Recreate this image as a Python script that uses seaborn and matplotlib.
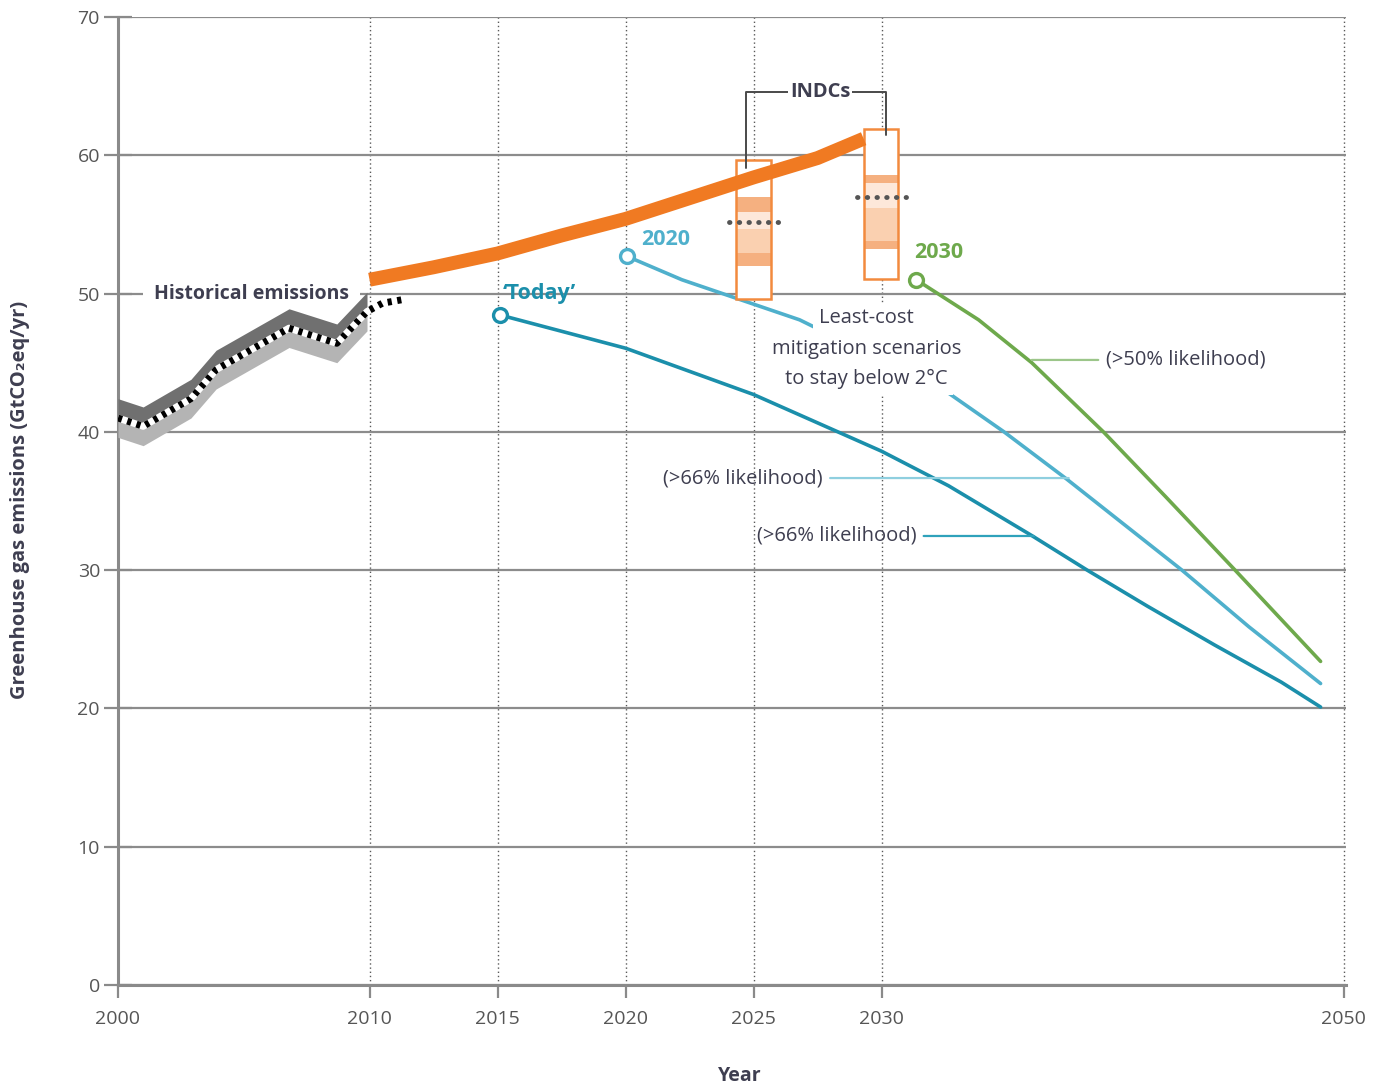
import numpy as np
import pandas as pd
import matplotlib.pyplot as plt
import seaborn as sns

# --- datos ---
# emisiones históricas (línea central de la banda)
hist_years = [2000, 2001, 2002.9, 2003.9, 2006.8, 2008.7, 2009.9, 2010.5, 2011.4]
hist_vals = [41.0, 40.4, 42.4, 44.5, 47.5, 46.4, 48.7, 49.3, 49.6]
hist_band_n = 7  # las bandas grises terminan en 2010

# trayectoria INDC (línea naranja)
indc_years = [2010, 2012.5, 2015, 2017.5, 2020, 2022.5, 2025, 2027.5, 2029.3]
indc_vals = [51.0, 51.9, 52.9, 54.2, 55.4, 56.9, 58.4, 59.8, 61.2]

# cajas INDC 2025 / 2030
box_years = [2025, 2030]
box_low = [49.6, 51.05]
box_high = [59.65, 61.9]
outer_low = [52.0, 53.2]
inner_low = [52.9, 53.8]
core_low = [54.7, 56.2]
core_high = [55.9, 58.0]
outer_high = [57.0, 58.6]
box_median = [55.2, 57.0]

# escenarios de menor coste
today_years = [2015.1, 2020, 2025, 2030, 2032.9, 2036.5, 2038.9, 2041.5, 2044.4, 2047.3, 2049]
today_vals = [48.45, 46.05, 42.7, 38.6, 36.1, 32.5, 30.0, 27.4, 24.6, 21.9, 20.1]

s2020_years = [2020.05, 2022.2, 2026.8, 2032.9, 2035.3, 2038.0, 2043.0, 2045.9, 2049]
s2020_vals = [52.7, 51.0, 48.1, 42.8, 40.0, 36.6, 30.0, 25.9, 21.8]

s2030_years = [2031.5, 2034.2, 2036.5, 2039.6, 2042.3, 2045.3, 2049]
s2030_vals = [51.0, 48.1, 45.0, 40.0, 35.3, 30.0, 23.4]

x_ticks = [2000, 2010, 2015, 2020, 2025, 2030, 2050]
y_ticks = [0, 10, 20, 30, 40, 50, 60, 70]

# colores
TEAL_DARK = '#1b8fab'
TEAL_LIGHT = '#4fb0cc'
GREEN = '#6ea94c'
ORANGE = '#f07a22'
TXT = '#3e3e50'

sns.set_theme(style="white")
plt.rcParams['font.family'] = ['Open Sans', 'DejaVu Sans']

fig = plt.figure(figsize=(13.73, 10.86), dpi=100)
ax = fig.add_axes([118 / 1373, 1 - 985 / 1086, 1228 / 1373, 968 / 1086])

# eje x no lineal (2000-2010 y 2030-2050 algo comprimidos)
yr_anchor = [2000, 2010, 2030, 2050, 2060]
px_anchor = [0, 252, 765, 1228, 1459.5]
ax.set_xscale('function', functions=(lambda x: np.interp(x, yr_anchor, px_anchor),
                                     lambda p: np.interp(p, px_anchor, yr_anchor)))
ax.set_xlim(2000, 2050.1)
ax.set_ylim(0, 70)

# rejilla
ax.set_axisbelow(True)
ax.yaxis.grid(True, color='#8c8c8c', lw=1.6)
ax.xaxis.grid(True, color='#5a5a5a', lw=1.0, ls=(0, (1, 2)))
for s in ['top', 'right']:
    ax.spines[s].set_visible(False)
for s in ['left', 'bottom']:
    ax.spines[s].set_color('#8a8a8a')
    ax.spines[s].set_linewidth(2.2)

# emisiones históricas
hx = hist_years[:hist_band_n]
hc = np.array(hist_vals[:hist_band_n])
ax.fill_between(hx, hc, hc + 1.4, color='#707070', lw=0, zorder=3)
ax.fill_between(hx, hc - 1.4, hc, color='#b4b4b4', lw=0, zorder=3)
ax.plot(hist_years, hist_vals, color='white', lw=5, zorder=3.2, solid_capstyle='butt')
ax.plot(hist_years, hist_vals, color='black', lw=5, ls=(0, (0.6, 0.8)), zorder=3.3)

# escenarios
sns.lineplot(x=today_years, y=today_vals, ax=ax, color=TEAL_DARK, lw=2.6, zorder=3)
sns.lineplot(x=s2020_years, y=s2020_vals, ax=ax, color=TEAL_LIGHT, lw=2.6, zorder=3)
sns.lineplot(x=s2030_years, y=s2030_vals, ax=ax, color=GREEN, lw=2.6, zorder=3)
for xs, ys, c in [(today_years, today_vals, TEAL_DARK), (s2020_years, s2020_vals, TEAL_LIGHT),
                  (s2030_years, s2030_vals, GREEN)]:
    ax.plot(xs[0], ys[0], 'o', ms=10, mfc='white', mec=c, mew=2.4, zorder=6)

# cajas INDC
bw = 1.4
low, high = np.array(box_low), np.array(box_high)
ax.bar(box_years, high - low, bottom=low, width=bw, color='white', lw=0, zorder=4)
ax.bar(box_years, np.array(outer_high) - np.array(outer_low), bottom=outer_low, width=bw,
       color='#f5b080', lw=0, zorder=4.1)
ax.bar(box_years, np.array(core_low) - np.array(inner_low), bottom=inner_low, width=bw,
       color='#fad0b0', lw=0, zorder=4.2)
ax.bar(box_years, np.array(core_high) - np.array(core_low), bottom=core_low, width=bw,
       color='#fde8da', lw=0, zorder=4.2)
ax.bar(box_years, high - low, bottom=low, width=bw, fill=False, edgecolor='#f28a3e', lw=1.8, zorder=4.5)

# línea INDC
sns.lineplot(x=indc_years, y=indc_vals, ax=ax, color=ORANGE, lw=10, zorder=5)
ax.lines[-1].set_solid_capstyle('butt')

# medianas punteadas
for yr, m in zip(box_years, box_median):
    ax.plot([yr - 0.95, yr + 1.05], [m, m], color='#555555', lw=3.5,
            ls=(0, (0.1, 1.9)), dash_capstyle='round', zorder=6)

# corchete INDCs
bx1, bx2 = box_years[0] - 0.3, box_years[1] + 0.2
ytop = 64.6
ax.plot([bx1, bx1, bx2, bx2], [box_high[0] - 0.55, ytop, ytop, box_high[1] - 0.4],
        color='#4a4a4a', lw=1.4, zorder=6)
ax.text(2027.6, ytop, 'INDCs', ha='center', va='center', fontsize=14.5, fontweight='bold',
        color=TXT, zorder=7, bbox=dict(fc='white', ec='none', pad=1.5))

# textos
ax.text(2005.3, 50, 'Historical emissions', ha='center', va='center', fontsize=14,
        fontweight='bold', color=TXT, zorder=2.5, bbox=dict(fc='white', ec='none', pad=8))
ax.text(2015.2, 50.0, '\u2018Today\u2019', ha='left', va='center', fontsize=15.5,
        fontweight='bold', color=TEAL_DARK, zorder=7)
ax.text(2020.6, 53.9, '2020', ha='left', va='center', fontsize=15.5,
        fontweight='bold', color=TEAL_LIGHT, zorder=7)
ax.text(2031.4, 53.0, '2030', ha='left', va='center', fontsize=15.5,
        fontweight='bold', color=GREEN, zorder=7)

for txt, yy in [('Least-cost', 48.2), ('mitigation scenarios', 46.0), ('to stay below 2°C', 43.8)]:
    ax.text(2029.4, yy, txt, ha='center', va='center', fontsize=14.5, color=TXT, zorder=5.5,
            bbox=dict(fc='white', ec='none', pad=4))

ax.annotate('(>50% likelihood)', xy=(2036.5, 45.2), xytext=(2039.7, 45.2), ha='left', va='center',
            fontsize=14.5, color=TXT, zorder=7,
            arrowprops=dict(arrowstyle='-', color='#9cc68a', lw=1.6, shrinkA=3, shrinkB=0))
ax.annotate('(>66% likelihood)', xy=(2038.1, 36.66), xytext=(2027.7, 36.66), ha='right', va='center',
            fontsize=14.5, color=TXT, zorder=7,
            arrowprops=dict(arrowstyle='-', color='#8fcfdf', lw=1.6, shrinkA=3, shrinkB=0))
ax.annotate('(>66% likelihood)', xy=(2036.6, 32.47), xytext=(2031.5, 32.47), ha='right', va='center',
            fontsize=14.5, color=TXT, zorder=7,
            arrowprops=dict(arrowstyle='-', color='#2fa2bb', lw=1.6, shrinkA=3, shrinkB=0))

# ejes
ax.set_xticks(x_ticks)
ax.set_xticklabels([str(t) for t in x_ticks])
ax.set_yticks(y_ticks)
ax.tick_params(axis='both', which='major', colors='#8a8a8a', labelcolor='#555555',
               labelsize=14, width=1.6)
ax.tick_params(axis='y', direction='inout', length=20, pad=3, left=True)
ax.tick_params(axis='x', direction='out', length=9, pad=9, bottom=True)

ax.set_ylabel('Greenhouse gas emissions (GtCO\u2082eq/yr)', fontsize=14.5, fontweight='bold', color=TXT)
ax.set_xlabel('Year', fontsize=14, fontweight='bold', color=TXT)
ax.yaxis.set_label_coords(-0.0717, 0.501)
ax.xaxis.set_label_coords(0.5065, -0.0837)

plt.savefig('out.png', dpi=100)
